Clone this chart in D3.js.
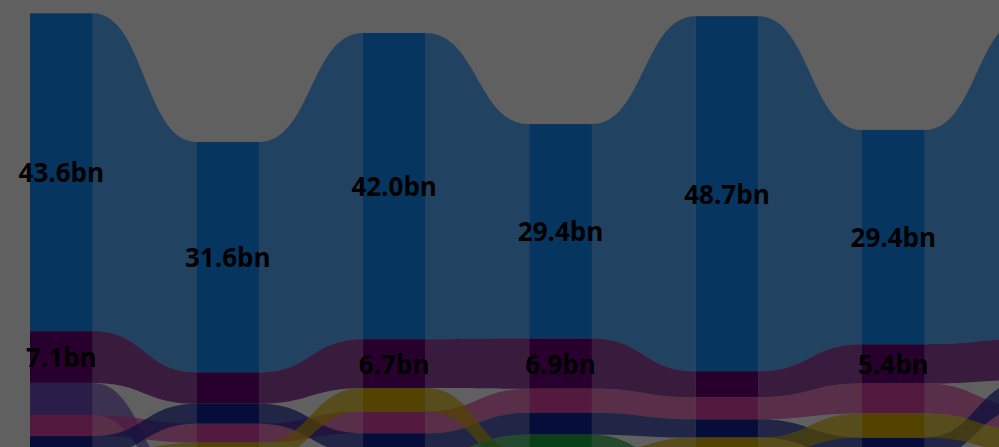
<!DOCTYPE html>
<html>
<head>
<meta charset="utf-8">
<script src="https://cdn.jsdelivr.net/npm/d3@7"></script>
<style>
  html, body { margin: 0; padding: 0; background: #ffffff; overflow: hidden; }
  svg { display: block; }
</style>
</head>
<body>
<svg id="chart" width="999" height="447"></svg>
<script>
// ---- data (values in billions) ----
const periods = ["P1", "P2", "P3", "P4", "P5", "P6", "P7"];
const seriesNames = ["Series A", "Series B", "Series C", "Series D", "Series E", "Series F", "Series G", "Series H", "Series I"];
const seriesColors = ["#118DFF", "#6B007B", "#744EC2", "#E044A7", "#12239E", "#D9B300", "#1AAB40", "#E66C37", "#D64550"];
const seriesA = [43.6, 31.6, 42.0, 29.4, 48.7, 29.4, 44.2];
const seriesB = [7.1, 4.3, 6.7, 6.9, 3.6, 5.4, 5.6];
const seriesC = [4.4, 1.6, 2.1, 2.1, 2.2, 2.0, 2.3];
const seriesD = [2.9, 2.6, 3.0, 3.3, 3.0, 4.1, 3.2];
const seriesE = [2.6, 2.75, 2.8, 3.0, 2.5, 2.9, 3.7];
const seriesF = [2.3, 2.4, 3.2, 2.4, 2.4, 3.3, 3.0];
const seriesG = [2.1, 2.2, 2.4, 2.7, 2.0, 2.3, 2.6];
const seriesH = [1.8, 1.9, 1.8, 1.7, 1.8, 1.5, 1.7];
const seriesI = [1.2, 1.0, 1.3, 1.3, 1.4, 1.1, 1.2];
const allSeries = [seriesA, seriesB, seriesC, seriesD, seriesE, seriesF, seriesG, seriesH, seriesI];

// ---- layout ----
const svg = d3.select("#chart");
const W = 999, H = 447;
const step = 166.4, padInner = 0.623;
const x = d3.scaleBand()
  .domain(periods)
  .range([30, 30 + step * (periods.length - padInner)])
  .paddingInner(padInner)
  .paddingOuter(0);
const y = d3.scaleLinear().domain([0, 70]).range([509, 509 - 70 * 7.29]);
const k = y(0) - y(1);

// stack: per period, sort descending, largest on top
const seg = {};
seriesNames.forEach((s, si) => seg[si] = []);
periods.forEach((p, pi) => {
  const items = allSeries.map((arr, si) => ({ si, v: arr[pi] }));
  const total = d3.sum(items, d => d.v);
  items.sort((a, b) => b.v - a.v);
  let top = y(total);
  items.forEach(it => {
    const h = it.v * k;
    seg[it.si][pi] = { y0: top, y1: top + h, v: it.v };
    top += h;
  });
});

const g = svg.append("g");
g.append("rect").attr("width", W).attr("height", H).attr("fill", "#ffffff");

// ribbons
function ribbonPath(a, b, xa, xb) {
  const xm = (xa + xb) / 2;
  return `M${xa},${a.y0} C${xm},${a.y0} ${xm},${b.y0} ${xb},${b.y0}` +
         ` L${xb},${b.y1} C${xm},${b.y1} ${xm},${a.y1} ${xa},${a.y1} Z`;
}
seriesNames.forEach((s, si) => {
  for (let pi = 0; pi < periods.length - 1; pi++) {
    const xa = x(periods[pi]) + x.bandwidth();
    const xb = x(periods[pi + 1]);
    g.append("path")
      .attr("d", ribbonPath(seg[si][pi], seg[si][pi + 1], xa, xb))
      .attr("fill", seriesColors[si])
      .attr("fill-opacity", 0.7);
  }
});

// bars
seriesNames.forEach((s, si) => {
  periods.forEach((p, pi) => {
    const sgm = seg[si][pi];
    g.append("rect")
      .attr("x", x(p))
      .attr("y", sgm.y0)
      .attr("width", x.bandwidth())
      .attr("height", sgm.y1 - sgm.y0)
      .attr("fill", seriesColors[si]);
  });
});

// labels (only for periods whose column lies inside the visible frame)
const fmt = d3.format(".1f");
seriesNames.forEach((s, si) => {
  periods.forEach((p, pi) => {
    const sgm = seg[si][pi];
    if (sgm.y1 - sgm.y0 < 36) return;
    if (x(p) + x.bandwidth() > W) return;
    g.append("text")
      .attr("x", x(p) + x.bandwidth() / 2)
      .attr("y", (sgm.y0 + sgm.y1) / 2)
      .attr("text-anchor", "middle")
      .attr("dominant-baseline", "central")
      .attr("font-family", "'Segoe UI', 'Open Sans', sans-serif")
      .attr("font-weight", "bold")
      .attr("font-size", 26)
      .attr("fill", "#000000")
      .text(fmt(sgm.v) + "bn");
  });
});

// modal dimming overlay
svg.append("rect").attr("width", W).attr("height", H).attr("fill", "#000000").attr("fill-opacity", 0.624);
</script>
</body>
</html>
